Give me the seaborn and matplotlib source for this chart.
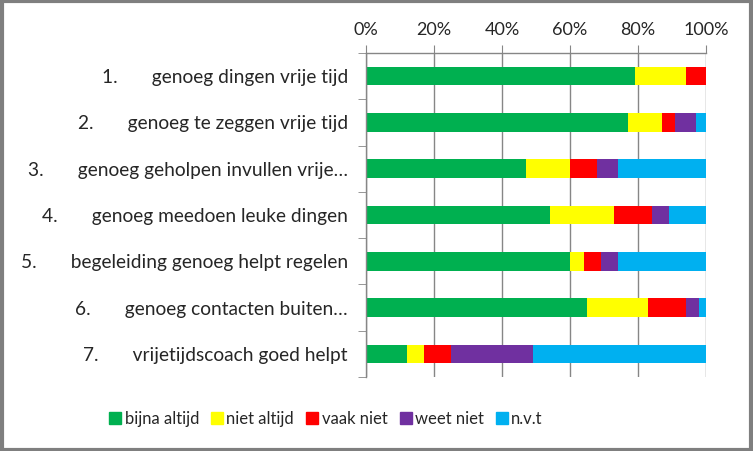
import matplotlib
matplotlib.use("Agg")
import matplotlib.pyplot as plt
import seaborn as sns
import pandas as pd
import numpy as np
from matplotlib.patches import Rectangle
from matplotlib.lines import Line2D

categories = [
    "1.       genoeg dingen vrije tijd",
    "2.       genoeg te zeggen vrije tijd",
    "3.       genoeg geholpen invullen vrije…",
    "4.       genoeg meedoen leuke dingen",
    "5.       begeleiding genoeg helpt regelen",
    "6.       genoeg contacten buiten…",
    "7.       vrijetijdscoach goed helpt",
]
series_names = ["bijna altijd", "niet altijd", "vaak niet", "weet niet", "n.v.t"]
bijna_altijd = [79, 77, 47, 54, 60, 65, 12]
niet_altijd = [15, 10, 13, 19, 4, 18, 5]
vaak_niet = [6, 4, 8, 11, 5, 11, 8]
weet_niet = [0, 6, 6, 5, 5, 4, 24]
nvt = [0, 3, 26, 11, 26, 2, 51]
colors = ["#00b050", "#ffff00", "#ff0000", "#7030a0", "#00b0f0"]
xticks = [0, 20, 40, 60, 80, 100]

sns.set_style("white")
plt.rcParams["font.family"] = ["Lato", "DejaVu Sans"]

values = [bijna_altijd, niet_altijd, vaak_niet, weet_niet, nvt]
cum = np.cumsum(np.array(values, dtype=float), axis=0)

fig = plt.figure(figsize=(7.53, 4.51), dpi=100)
ax = fig.add_axes([366/753, 1-377/451, 340/753, 324/451])

# draw cumulative bars back to front to build stacks
for i in reversed(range(len(series_names))):
    df = pd.DataFrame({"cat": categories, "val": cum[i]})
    sns.barplot(data=df, x="val", y="cat", color=colors[i], width=0.4,
                saturation=1, ax=ax, orient="h", edgecolor="none")

ax.set_xlim(0, 100)
ax.set_ylim(len(categories) - 0.5, -0.5)
ax.xaxis.tick_top()
ax.set_xticks(xticks)
ax.set_xticklabels([f"{t}%" for t in xticks], fontsize=13)
ax.tick_params(axis="x", length=6, color="#868686", pad=5, top=True, bottom=False)
ax.grid(axis="x", color="#868686", linewidth=1)
ax.set_axisbelow(True)
ax.set_xlabel("")
ax.set_ylabel("")

ax.set_yticks(range(len(categories)))
ax.set_yticklabels(categories, fontsize=13.8)
ax.set_yticks(np.arange(-0.5, len(categories), 1.0), minor=True)
ax.tick_params(axis="y", which="major", length=0, pad=13)
ax.tick_params(axis="y", which="minor", length=6, color="#868686", left=True)

for s in ["bottom", "right"]:
    ax.spines[s].set_visible(False)
for s in ["top", "left"]:
    ax.spines[s].set_visible(True)
    ax.spines[s].set_color("#868686")
    ax.spines[s].set_linewidth(1)

handles = [Line2D([0], [0], marker="s", linestyle="none", markersize=8.5,
                  markerfacecolor=c, markeredgecolor=c) for c in colors]
fig.legend(handles, series_names, loc="center", bbox_to_anchor=(0.432, 1-419/451),
           ncol=5, frameon=False, fontsize=12, handletextpad=0.1,
           columnspacing=0.65, handlelength=0.9)

fig.patches.append(Rectangle((0.002, 0.003), 0.995, 0.994, transform=fig.transFigure,
                             fill=False, edgecolor="#7f7f7f", linewidth=3))

fig.savefig("out.png", dpi=100, facecolor="white")
